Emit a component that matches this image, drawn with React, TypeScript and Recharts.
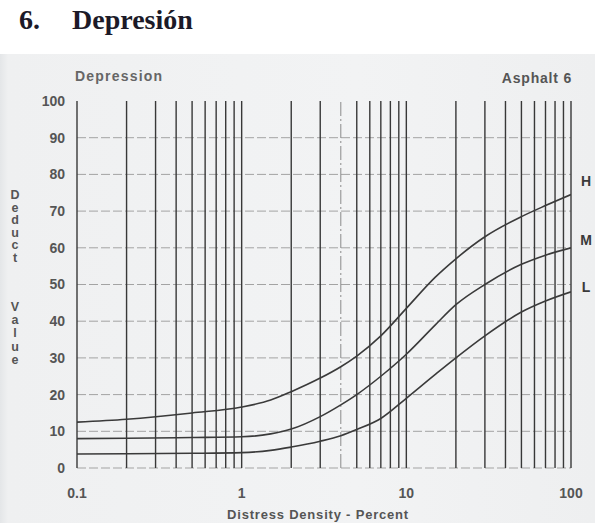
import React from 'react';
import { LineChart, Line, XAxis, YAxis, ReferenceLine } from 'recharts';

// Distress density (percent) sample points along each curve
const densities = [0.1, 0.2, 0.5, 1, 1.5, 2, 3, 4, 5, 7, 10, 15, 20, 30, 50, 70, 100];
// Deduct values
const highDeduct = [12.5, 13.3, 15, 16.6, 18.5, 20.8, 24.5, 27.6, 30.5, 36, 43.5, 52, 57, 63, 68.5, 71.5, 74.5];
const mediumDeduct = [8, 8.1, 8.3, 8.5, 9.3, 10.6, 14, 17.2, 20, 25, 31, 39, 44.5, 50, 55.5, 58, 60];
const lowDeduct = [3.8, 3.9, 4, 4.2, 4.8, 5.7, 7.3, 8.8, 10.5, 13.5, 19, 25.5, 30, 36, 42.5, 45.5, 48];

const xTickValues = [0.1, 1, 10, 100];
const yTickValues = [0, 10, 20, 30, 40, 50, 60, 70, 80, 90, 100];
const yGridValues = [0, 10, 20, 30, 40, 50, 60, 70, 80, 90];
const xGridValues = [
  0.1, 0.2, 0.3, 0.4, 0.5, 0.6, 0.7, 0.8, 0.9, 1,
  2, 3, 5, 6, 7, 8, 9, 10,
  20, 30, 40, 50, 60, 70, 80, 90, 100,
];
const xDashedGridValues = [4];
const severityNames = ['H', 'M', 'L'];
const severityLabelY = [181, 240, 287];

const data = densities.map((d, i) => ({
  x: d,
  H: highDeduct[i],
  M: mediumDeduct[i],
  L: lowDeduct[i],
}));

const SANS = '"Liberation Sans", Arial, sans-serif';
const tickStyle = { fill: '#555', fontSize: 14, fontWeight: 'bold' as const, fontFamily: SANS };

const yLetters1 = 'Deduct'.split('');
const yLetters2 = 'Value'.split('');

export default function App() {
  return (
    <div style={{ position: 'absolute', left: 0, top: 0, width: 595, height: 523, background: '#ffffff', overflow: 'hidden' }}>
      <div style={{ position: 'absolute', left: 0, top: 54, width: 595, height: 469, background: 'linear-gradient(90deg, #e4e6e8 0px, #eff0f1 8px, #f2f3f4 60%, #eeeff0 100%)' }} />
      <div style={{ position: 'absolute', left: 0, top: 0 }}>
        <LineChart width={595} height={523} data={data} margin={{ top: 101, right: 24, bottom: 25, left: 37 }}>
          <XAxis
            dataKey="x"
            type="number"
            scale="log"
            domain={[0.1, 100]}
            ticks={xTickValues}
            tickFormatter={(v: number) => String(v)}
            axisLine={false}
            tickLine={false}
            tickSize={0}
            tickMargin={20}
            height={30}
            tick={tickStyle}
            allowDataOverflow
          />
          <YAxis
            type="number"
            domain={[0, 100]}
            ticks={yTickValues}
            axisLine={false}
            tickLine={false}
            tickSize={0}
            tickMargin={12}
            width={40}
            tick={tickStyle}
            interval={0}
          />
          {yGridValues.map((v) => (
            <ReferenceLine key={'h' + v} y={v} stroke="#a3a3a3" strokeWidth={1} strokeDasharray="9 3" />
          ))}
          {xDashedGridValues.map((v) => (
            <ReferenceLine key={'d' + v} x={v} stroke="#8a8a8a" strokeWidth={1} strokeDasharray="14 3 2 3" />
          ))}
          {xGridValues.map((v) => (
            <ReferenceLine key={'v' + v} x={v} stroke="#383838" strokeWidth={1.4} />
          ))}
          <Line type="monotone" dataKey="H" stroke="#3a3a3a" strokeWidth={1.6} dot={false} isAnimationActive={false} />
          <Line type="monotone" dataKey="M" stroke="#3a3a3a" strokeWidth={1.6} dot={false} isAnimationActive={false} />
          <Line type="monotone" dataKey="L" stroke="#3a3a3a" strokeWidth={1.6} dot={false} isAnimationActive={false} />
        </LineChart>
      </div>
      <svg width={595} height={523} style={{ position: 'absolute', left: 0, top: 0, pointerEvents: 'none' }}>
        <text x={19} y={29} fontFamily='"Liberation Serif", "Times New Roman", serif' fontWeight="bold" fontSize={28} fill="#1c1a28">6.</text>
        <text x={72} y={29} fontFamily='"Liberation Serif", "Times New Roman", serif' fontWeight="bold" fontSize={28} fill="#1c1a28">Depresión</text>
        <text x={75} y={81} fontFamily={SANS} fontWeight="bold" fontSize={14} fill="#666" letterSpacing={1.2}>Depression</text>
        <text x={572} y={83} textAnchor="end" fontFamily={SANS} fontWeight="bold" fontSize={14} fill="#555" letterSpacing={0.8}>Asphalt 6</text>
        {yLetters1.map((ch, i) => (
          <text key={'a' + i} x={15} y={199 + i * 12.6} textAnchor="middle" fontFamily={SANS} fontWeight="bold" fontSize={12.5} fill="#555">{ch}</text>
        ))}
        {yLetters2.map((ch, i) => (
          <text key={'b' + i} x={15} y={311 + i * 13.2} textAnchor="middle" fontFamily={SANS} fontWeight="bold" fontSize={12.5} fill="#555">{ch}</text>
        ))}
        <text x={318} y={519} textAnchor="middle" fontFamily={SANS} fontWeight="bold" fontSize={13} fill="#555" letterSpacing={0.8}>Distress Density - Percent</text>
        {severityNames.map((n, i) => (
          <text key={n} x={586} y={severityLabelY[i] + 5} textAnchor="middle" fontFamily={SANS} fontWeight="bold" fontSize={14} fill="#3a3a3a">{n}</text>
        ))}
      </svg>
    </div>
  );
}
